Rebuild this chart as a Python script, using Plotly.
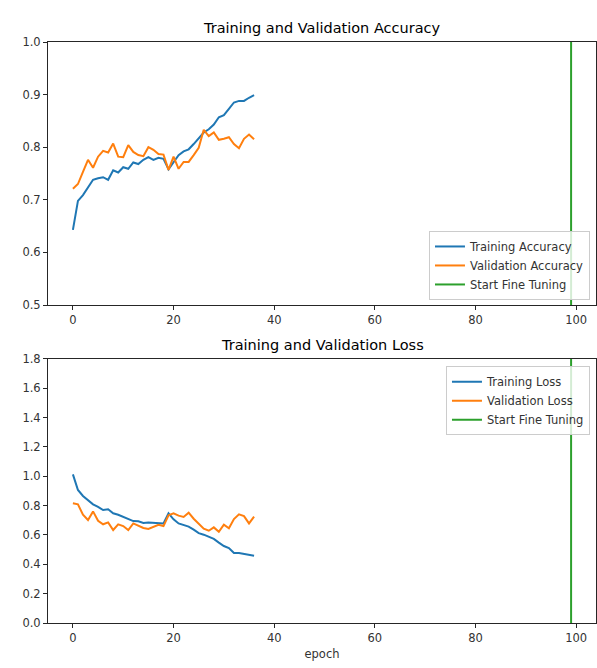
import plotly.graph_objects as go
from plotly.subplots import make_subplots

epochs = list(range(37))
train_acc = [0.643, 0.698, 0.709, 0.724, 0.738, 0.741, 0.743, 0.738, 0.756, 0.752,
             0.762, 0.759, 0.771, 0.768, 0.776, 0.781, 0.776, 0.780, 0.778, 0.758,
             0.772, 0.785, 0.792, 0.796, 0.806, 0.816, 0.828, 0.834, 0.843, 0.857,
             0.861, 0.873, 0.885, 0.888, 0.888, 0.894, 0.899]
val_acc = [0.721, 0.730, 0.753, 0.776, 0.761, 0.782, 0.793, 0.790, 0.807, 0.782,
           0.781, 0.804, 0.791, 0.785, 0.783, 0.800, 0.795, 0.787, 0.786, 0.757,
           0.782, 0.759, 0.772, 0.772, 0.785, 0.799, 0.833, 0.821, 0.828, 0.814,
           0.816, 0.819, 0.806, 0.798, 0.816, 0.824, 0.815]
train_loss = [1.013, 0.907, 0.866, 0.834, 0.809, 0.791, 0.770, 0.775, 0.748, 0.738,
              0.725, 0.709, 0.695, 0.693, 0.682, 0.686, 0.684, 0.679, 0.679, 0.748,
              0.707, 0.679, 0.670, 0.657, 0.636, 0.613, 0.602, 0.588, 0.573, 0.548,
              0.525, 0.511, 0.477, 0.477, 0.470, 0.461, 0.459]
val_loss = [0.816, 0.809, 0.738, 0.702, 0.761, 0.697, 0.673, 0.686, 0.634, 0.673,
            0.661, 0.634, 0.679, 0.666, 0.648, 0.641, 0.657, 0.670, 0.661, 0.734,
            0.748, 0.732, 0.723, 0.752, 0.711, 0.679, 0.643, 0.629, 0.652, 0.622,
            0.670, 0.646, 0.709, 0.741, 0.729, 0.679, 0.725]
fine_tune_epoch = 99
acc_ylim = [0.5, 1.0]
loss_ylim = [0.0, 1.8]

BLUE, ORANGE, GREEN = "#1f77b4", "#ff7f0e", "#2ca02c"
FONT = "DejaVu Sans"

fig = make_subplots(rows=2, cols=1, vertical_spacing=0.09)

fig.add_trace(go.Scatter(x=epochs, y=train_acc, mode="lines", name="Training Accuracy",
                         line=dict(color=BLUE, width=2), legend="legend"), row=1, col=1)
fig.add_trace(go.Scatter(x=epochs, y=val_acc, mode="lines", name="Validation Accuracy",
                         line=dict(color=ORANGE, width=2), legend="legend"), row=1, col=1)
fig.add_trace(go.Scatter(x=[fine_tune_epoch, fine_tune_epoch], y=acc_ylim, mode="lines",
                         name="Start Fine Tuning", line=dict(color=GREEN, width=2),
                         legend="legend"), row=1, col=1)

fig.add_trace(go.Scatter(x=epochs, y=train_loss, mode="lines", name="Training Loss",
                         line=dict(color=BLUE, width=2), legend="legend2"), row=2, col=1)
fig.add_trace(go.Scatter(x=epochs, y=val_loss, mode="lines", name="Validation Loss",
                         line=dict(color=ORANGE, width=2), legend="legend2"), row=2, col=1)
fig.add_trace(go.Scatter(x=[fine_tune_epoch, fine_tune_epoch], y=loss_ylim, mode="lines",
                         name="Start Fine Tuning", line=dict(color=GREEN, width=2),
                         legend="legend2"), row=2, col=1)

axis_common = dict(showline=True, mirror=True, linecolor="#262626", linewidth=1,
                   ticks="outside", ticklen=4, tickcolor="#262626", showgrid=False,
                   zeroline=False, tickfont=dict(family=FONT, size=11.5, color="#333333"))

xr = [-4.95, 103.95]
fig.update_xaxes(range=xr, tickvals=[0, 20, 40, 60, 80, 100], **axis_common)
fig.update_yaxes(**axis_common)
fig.update_yaxes(range=acc_ylim, tickvals=[0.5, 0.6, 0.7, 0.8, 0.9, 1.0],
                 tickformat=".1f", row=1, col=1)
fig.update_yaxes(range=loss_ylim, tickvals=[0.0, 0.2, 0.4, 0.6, 0.8, 1.0, 1.2, 1.4, 1.6, 1.8],
                 tickformat=".1f", row=2, col=1)
fig.update_xaxes(title=dict(text="epoch", font=dict(family=FONT, size=11.5, color="#333333"),
                            standoff=6), row=2, col=1)

legend_common = dict(bgcolor="rgba(255,255,255,0.8)", bordercolor="#cccccc", borderwidth=1,
                     font=dict(family=FONT, size=11.5, color="#333333"),
                     tracegroupgap=0, itemwidth=30)

fig.update_layout(
    width=597, height=668,
    margin=dict(l=48, r=1, t=42, b=45),
    paper_bgcolor="white", plot_bgcolor="white",
    font=dict(family=FONT, size=11.5, color="#333333"),
    yaxis=dict(domain=[0.5473, 1.0]),
    yaxis2=dict(domain=[0.0, 0.4544]),
    legend=dict(x=0.989, y=0.556, xanchor="right", yanchor="bottom", **legend_common),
    legend2=dict(x=0.989, y=0.442, xanchor="right", yanchor="top", **legend_common),
    annotations=[
        dict(text="Training and Validation Accuracy", x=0.5, y=1.0, xref="paper", yref="paper",
             xanchor="center", yanchor="bottom", yshift=4, showarrow=False,
             font=dict(family=FONT, size=14.5, color="black")),
        dict(text="Training and Validation Loss", x=0.5, y=0.4544, xref="paper", yref="paper",
             xanchor="center", yanchor="bottom", yshift=4, showarrow=False,
             font=dict(family=FONT, size=14.5, color="black")),
    ],
)

fig.write_html("out.html", config={"displayModeBar": False},
               post_script="document.body.style.margin='0';")
